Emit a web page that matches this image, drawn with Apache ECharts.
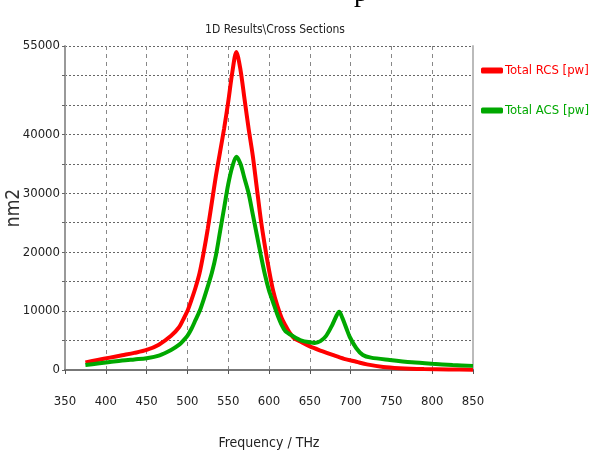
<!DOCTYPE html>
<html><head><meta charset="utf-8">
<script src="https://cdn.jsdelivr.net/npm/echarts@6/dist/echarts.min.js"></script>
<style>html,body{margin:0;padding:0;background:#fff}#c{width:590px;height:450px}</style>
</head><body><div id="c"></div>
<script>
// RCS (red)
const rcsFreq = [375,390,405,420,435,450,465,480,490,495,500,505,510,515,520,525,530,535,540,545,550,555,560,565,570,575,580,585,590,595,600,605,610,615,620,625,630,640,650,665,678,692,707,720,740,760,790,820,850];
const rcsVal  = [1300,1700,2100,2500,2900,3400,4300,5800,7300,8600,10000,11900,14000,16500,20000,24000,28500,33000,37000,41000,45500,50500,54000,51000,46000,41000,36500,31000,25500,21000,17000,13500,11000,9000,7600,6400,5500,4700,4000,3200,2550,1900,1400,950,500,300,150,80,50];
// ACS (green)
const acsFreq = [375,390,405,420,435,450,466,480,490,495,500,505,510,515,520,525,530,535,540,545,550,555,560,565,570,575,580,585,590,595,600,605,610,615,620,630,640,650,656,663,670,677,683,686,690,695,699,707,715,725,748,775,800,825,850];
const acsVal  = [850,1100,1350,1600,1800,2000,2500,3400,4300,5000,5800,7000,8500,10000,12000,14200,16500,19500,23500,27500,31500,34500,36200,35000,32500,30000,26500,23000,19500,16200,13500,11500,9500,7800,6600,5700,5000,4700,4600,4900,5800,7500,9300,9900,8800,7000,5600,3700,2550,2100,1700,1300,1050,850,700];
const seriesNames = ['Total RCS [pw]','Total ACS [pw]'];
const yLabels = [0,10000,20000,30000,40000,55000];

const FONT = "'DejaVu Sans Condensed',sans-serif";
const chart = echarts.init(document.getElementById('c'));
const zip = (a,b)=>a.map((x,i)=>[x,b[i]]);
chart.setOption({
  animation:false,
  backgroundColor:'#fff',
  title:{text:'1D Results\\Cross Sections',left:270,top:19,textAlign:'center',
    textStyle:{fontFamily:FONT,fontSize:12,fontWeight:'normal',color:'#222'}},
  legend:{orient:'vertical',left:476,top:59,itemGap:27,itemWidth:22,itemHeight:6,icon:'roundRect',
    data:[{name:seriesNames[0],textStyle:{color:'#ff0000'}},{name:seriesNames[1],textStyle:{color:'#00a800'}}],
    textStyle:{fontFamily:FONT,fontSize:13,padding:[0,0,0,-3]}},
  grid:{left:65,right:117,top:46,bottom:80,outerBoundsMode:'none',containLabel:false},
  xAxis:[{type:'value',min:350,max:850,interval:50,
    name:'Frequency / THz',nameLocation:'middle',nameGap:66,nameMoveOverlap:false,
    nameTextStyle:{fontFamily:FONT,fontSize:14,color:'#222'},
    axisLine:{lineStyle:{color:'#555',width:2}},
    axisTick:{show:true,length:4,lineStyle:{color:'#555'}},
    axisLabel:{margin:25,fontFamily:FONT,fontSize:13,color:'#222'},
    splitLine:{show:true,lineStyle:{color:'#888',type:[4,4],width:1}}},
   {type:'value',position:'top',min:350,max:850,interval:50,
    axisLine:{show:true,lineStyle:{color:'#777',width:2}},axisTick:{show:false},axisLabel:{show:false},splitLine:{show:false}}],
  yAxis:[{type:'value',min:0,max:55000,interval:5000,
    name:'nm2',nameLocation:'middle',nameGap:41,nameRotate:90,nameMoveOverlap:false,
    nameTextStyle:{fontFamily:FONT,fontSize:19,color:'#333'},
    axisLine:{show:true,lineStyle:{color:'#999',width:2}},
    axisTick:{show:true,length:3,lineStyle:{color:'#666'}},
    axisLabel:{margin:5,fontFamily:FONT,fontSize:13,color:'#222',
      formatter:v=>yLabels.indexOf(v)>=0?String(v):''},
    splitLine:{show:true,lineStyle:{color:'#666',type:[2,2],width:1}}},
   {type:'value',position:'right',min:0,max:55000,interval:5000,
    axisLine:{show:true,lineStyle:{color:'#bbb',width:2}},axisTick:{show:false},axisLabel:{show:false},splitLine:{show:false}}],
  graphic:[{type:'text',left:354,top:-20,style:{text:'p',font:"28px 'Liberation Serif'",fill:'#000'}}],
  series:[
    {name:seriesNames[0],type:'line',data:zip(rcsFreq,rcsVal),smooth:0.3,showSymbol:false,
      lineStyle:{color:'#ff0000',width:4},itemStyle:{color:'#ff0000'}},
    {name:seriesNames[1],type:'line',data:zip(acsFreq,acsVal),smooth:0.3,showSymbol:false,
      lineStyle:{color:'#00a800',width:4},itemStyle:{color:'#00a800'}}
  ]
});
</script></body></html>
